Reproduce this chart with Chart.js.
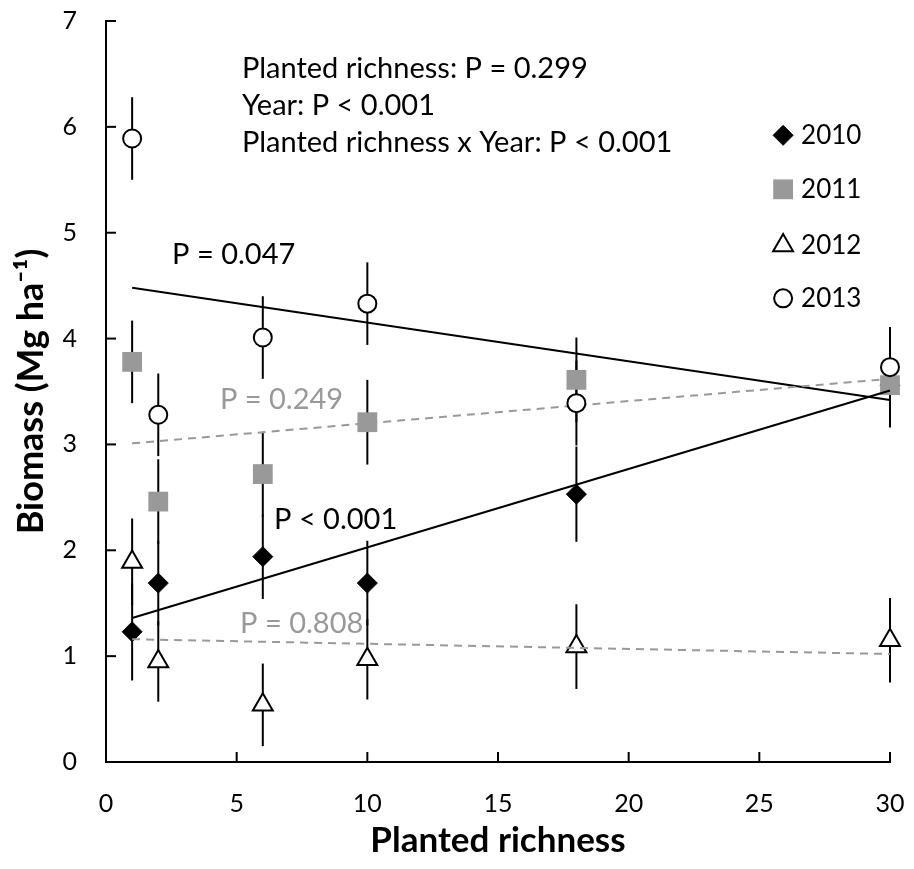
<!DOCTYPE html>
<html>
<head>
<meta charset="utf-8">
<script src="https://cdn.jsdelivr.net/npm/chart.js@4.4.0/dist/chart.umd.min.js"></script>
<style>
  body { margin: 0; background: #fff; }
</style>
</head>
<body>
<canvas id="chart" width="914" height="869"></canvas>
<script>

// planted richness levels (x)
const richness = [1, 2, 6, 10, 18, 30]

// mean biomass per year, Mg/ha
const biomass2010 = [1.23, 1.69, 1.94, 1.69, 2.53, 3.56]
const biomass2011 = [3.78, 2.46, 2.72, 3.21, 3.61, 3.56]
const biomass2012 = [1.89, 0.95, 0.54, 0.97, 1.09, 1.15]
const biomass2013 = [5.89, 3.28, 4.01, 4.33, 3.39, 3.73]

// error bar half lengths
const err2010 = [0.46, 0.40, 0.40, 0.40, 0.45, 0.40]
const err2011 = [0.39, 0.40, 0.40, 0.40, 0.40, 0.39]
const err2012 = [0.41, 0.38, 0.39, 0.38, 0.40, 0.40]
const err2013 = [0.39, 0.39, 0.39, 0.39, 0.40, 0.38]

// regression lines, ends at richness 1 and 30
const fitX = [1, 30]
const fit2010 = [1.36, 3.51]
const fit2011 = [3.01, 3.62]
const fit2012 = [1.16, 1.02]
const fit2013 = [4.48, 3.42]

const years = ["2010", "2011", "2012", "2013"]
const xTicks = [0, 5, 10, 15, 20, 25, 30]
const yTicks = [0, 1, 2, 3, 4, 5, 6, 7]

const GRAY = '#999999'
const FONT = 'Lato'
const NONE = 'rgba(0,0,0,0)'

const toPoints = (xs, ys) => xs.map((x, i) => ({ x: x, y: ys[i] }))

// marker look per year
const markers = [
  { pointStyle: 'rectRot', radius: 10, bg: '#000', border: '#000', bw: 1 },
  { pointStyle: 'rect', radius: 14, bg: GRAY, border: GRAY, bw: 0 },
  { pointStyle: 'triangle', radius: 11.5, bg: '#fff', border: '#000', bw: 2 },
  { pointStyle: 'circle', radius: 9, bg: '#fff', border: '#000', bw: 2 },
]
const values = [biomass2010, biomass2011, biomass2012, biomass2013]
const errors = [err2010, err2011, err2012, err2013]
const drawOrder = [5, 3, 4, 0]   // circles on top, then fit lines, squares, triangles, diamonds

// text placed in data units
const notes = [
  { text: "Planted richness: P = 0.299", x: 5.2, y: 6.55, color: '#000' },
  { text: "Year: P < 0.001", x: 5.2, y: 6.20, color: '#000' },
  { text: "Planted richness x Year: P < 0.001", x: 5.2, y: 5.85, color: '#000' },
  { text: "P = 0.047", x: 2.53, y: 4.79, color: '#000' },
  { text: "P = 0.249", x: 4.36, y: 3.42, color: GRAY },
  { text: "P < 0.001", x: 6.43, y: 2.29, color: '#000' },
  { text: "P = 0.808", x: 5.13, y: 1.31, color: GRAY },
]
const legendX = 25.91
const legendY = [5.92, 5.41, 4.88, 4.38]

const datasets = []
years.forEach((yr, k) => {
  const m = markers[k]
  datasets.push({
    type: 'scatter',
    label: yr,
    data: toPoints(richness, values[k]),
    pointStyle: m.pointStyle,
    pointRadius: m.radius,
    pointBackgroundColor: m.bg,
    pointBorderColor: m.border,
    pointBorderWidth: m.bw,
    clip: false,
    order: drawOrder[k],
  })
})
const fits = [fit2010, fit2011, fit2012, fit2013]
const fitDashed = [false, true, true, false]
fits.forEach((f, k) => {
  datasets.push({
    type: 'line',
    label: years[k] + ' fit',
    data: toPoints(fitX, f),
    borderColor: fitDashed[k] ? GRAY : '#000',
    borderWidth: 2,
    borderDash: fitDashed[k] ? [8, 6] : [],
    pointRadius: 0,
    fill: false,
    clip: false,
    order: 1,
  })
})

const extras = {
  id: 'extras',
  beforeDatasetsDraw(chart) {
    const ctx = chart.ctx, xs = chart.scales.x, ys = chart.scales.y
    ctx.save()
    ctx.strokeStyle = '#000'
    ctx.lineWidth = 2
    values.forEach((vals, k) => {
      richness.forEach((r, i) => {
        const px = xs.getPixelForValue(r)
        ctx.beginPath()
        ctx.moveTo(px, ys.getPixelForValue(vals[i] - errors[k][i]))
        ctx.lineTo(px, ys.getPixelForValue(vals[i] + errors[k][i]))
        ctx.stroke()
      })
    })
    ctx.restore()
  },
  afterDraw(chart) {
    const ctx = chart.ctx, xs = chart.scales.x, ys = chart.scales.y
    const area = chart.chartArea
    ctx.save()
    // tick marks pointing inside
    ctx.strokeStyle = '#000'
    ctx.lineWidth = 2
    xTicks.forEach(v => {
      const px = xs.getPixelForValue(v)
      ctx.beginPath(); ctx.moveTo(px, area.bottom); ctx.lineTo(px, area.bottom - 10); ctx.stroke()
    })
    yTicks.forEach(v => {
      const py = ys.getPixelForValue(v)
      ctx.beginPath(); ctx.moveTo(area.left, py); ctx.lineTo(area.left + 10, py); ctx.stroke()
    })
    // notes
    ctx.font = '29px ' + FONT
    ctx.textBaseline = 'middle'
    ctx.textAlign = 'left'
    notes.forEach(n => {
      ctx.fillStyle = n.color
      ctx.fillText(n.text, xs.getPixelForValue(n.x), ys.getPixelForValue(n.y))
    })
    // legend
    years.forEach((yr, k) => {
      const m = markers[k]
      const px = xs.getPixelForValue(legendX)
      const py = ys.getPixelForValue(legendY[k])
      ctx.fillStyle = m.bg
      ctx.strokeStyle = m.border
      ctx.lineWidth = m.bw
      Chart.helpers.drawPoint(ctx, { pointStyle: m.pointStyle, radius: m.radius, rotation: 0, borderWidth: m.bw }, px, py)
      ctx.fillStyle = '#000'
      ctx.font = '26px ' + FONT
      ctx.fillText(yr, px + 18, py)
    })
    ctx.restore()
  }
}

new Chart(document.getElementById("chart").getContext('2d'), {
  data: { datasets: datasets },
  plugins: [extras],
  options: {
    responsive: false,
    animation: false,
    layout: { padding: { top: 21, right: 24, left: 0, bottom: 0 } },
    plugins: {
      legend: { display: false },
      tooltip: { enabled: false },
    },
    scales: {
      x: {
        type: 'linear',
        min: 0, max: 30,
        afterBuildTicks: (scale) => { scale.ticks = xTicks.map(v => ({ value: v })) },
        afterFit: (scale) => { scale.height = 107 },
        grid: { display: true, drawOnChartArea: false, drawTicks: true, tickLength: 25, color: NONE },
        border: { color: '#000', width: 2 },
        ticks: { color: '#000', padding: 2, font: { family: FONT, size: 25 } },
        title: {
          display: true, text: 'Planted richness', color: '#000',
          font: { family: FONT, size: 35, weight: 'bold' },
          padding: { top: 0, bottom: 7 },
        },
      },
      y: {
        type: 'linear',
        min: 0, max: 7,
        afterBuildTicks: (scale) => { scale.ticks = yTicks.map(v => ({ value: v })) },
        afterFit: (scale) => { scale.width = 106 },
        grid: { display: true, drawOnChartArea: false, drawTicks: true, tickLength: 26, color: NONE },
        border: { color: '#000', width: 2 },
        ticks: { color: '#000', padding: 3, font: { family: FONT, size: 25 } },
        title: {
          display: true, text: 'Biomass (Mg ha\u207B\u00B9)', color: '#000',
          font: { family: FONT, size: 36, weight: 'bold' },
          padding: { top: 10, bottom: 0 },
        },
      },
    },
  },
})
</script>
</body>
</html>
